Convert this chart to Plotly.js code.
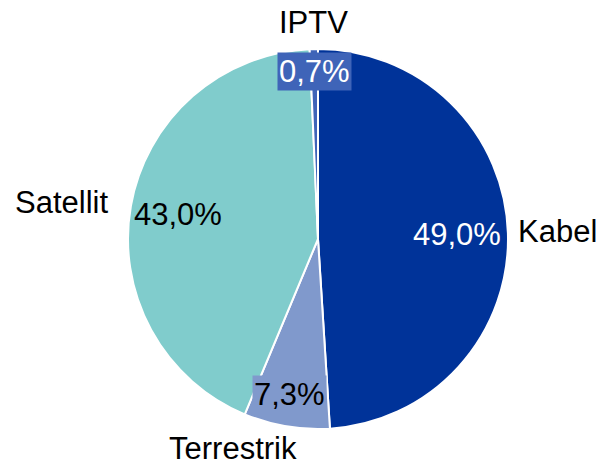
<!DOCTYPE html>
<html>
<head>
<meta charset="utf-8">
<script src="https://cdn.plot.ly/plotly-3.0.1.min.js"></script>
<style>html,body{margin:0;padding:0;background:#fff;}#chart{width:601px;height:467px;}</style>
</head>
<body>
<div id="chart"></div>
<script>
// Data
const categories = ["Kabel", "Terrestrik", "Satellit", "IPTV"];
const shares = [49.0, 7.3, 43.0, 0.7];
const percentLabels = ["49,0%", "7,3%", "43,0%", "0,7%"];

// Styling
const sliceColors = ["#003399", "#8099CC", "#80CCCC", "#3F64B8"];
const W = 601, H = 467;
const cx = 318, cy = 239, R = 190;
// label placement: radius factor and angle nudge (degrees) for names and percentages
const nameRadius = [1.26, 1.19, 1.366, 1.14];
const nameNudge = [0, 12.5, -2, 0];
const pctRadius = [0.73, 0.83, 0.75, 0.88];
const pctNudge = [0, 1, 0, 0];
const pctFontColor = ["#ffffff", "#000000", "#000000", "#ffffff"];
const pctBg = [null, "#8099CC", null, "#3F64B8"];

const font = {family: "Liberation Sans, Arial, sans-serif", size: 31, color: "#000"};

const total = shares.reduce((a, b) => a + b, 0);
let cum = 0;
const annotations = [];
function toPaper(px, py) { return {x: px / W, y: 1 - py / H}; }
shares.forEach((v, i) => {
  const mid = (cum + v / 2) / total * 360;
  cum += v;
  const a1 = (mid + nameNudge[i]) * Math.PI / 180;
  const p1 = toPaper(cx + nameRadius[i] * R * Math.sin(a1), cy - nameRadius[i] * R * Math.cos(a1));
  annotations.push({x: p1.x, y: p1.y, xref: "paper", yref: "paper", text: categories[i],
    showarrow: false, font: font, xanchor: "center", yanchor: "middle"});
  const a2 = (mid + pctNudge[i]) * Math.PI / 180;
  const p2 = toPaper(cx + pctRadius[i] * R * Math.sin(a2), cy - pctRadius[i] * R * Math.cos(a2));
  const ann = {x: p2.x, y: p2.y, xref: "paper", yref: "paper", text: percentLabels[i],
    showarrow: false, font: Object.assign({}, font, {color: pctFontColor[i]}),
    xanchor: "center", yanchor: "middle", borderpad: 1};
  if (pctBg[i]) ann.bgcolor = pctBg[i];
  annotations.push(ann);
});

const trace = {
  type: "pie",
  labels: categories,
  values: shares,
  sort: false,
  direction: "clockwise",
  rotation: 0,
  textinfo: "none",
  hoverinfo: "none",
  marker: {colors: sliceColors, line: {color: "#ffffff", width: 2}},
  domain: {x: [(cx - R) / W, (cx + R) / W], y: [1 - (cy + R) / H, 1 - (cy - R) / H]}
};

const layout = {
  width: W, height: H,
  margin: {l: 0, r: 0, t: 0, b: 0},
  showlegend: false,
  paper_bgcolor: "#ffffff",
  annotations: annotations
};

Plotly.newPlot("chart", [trace], layout, {displayModeBar: false, staticPlot: true});
</script>
</body>
</html>
